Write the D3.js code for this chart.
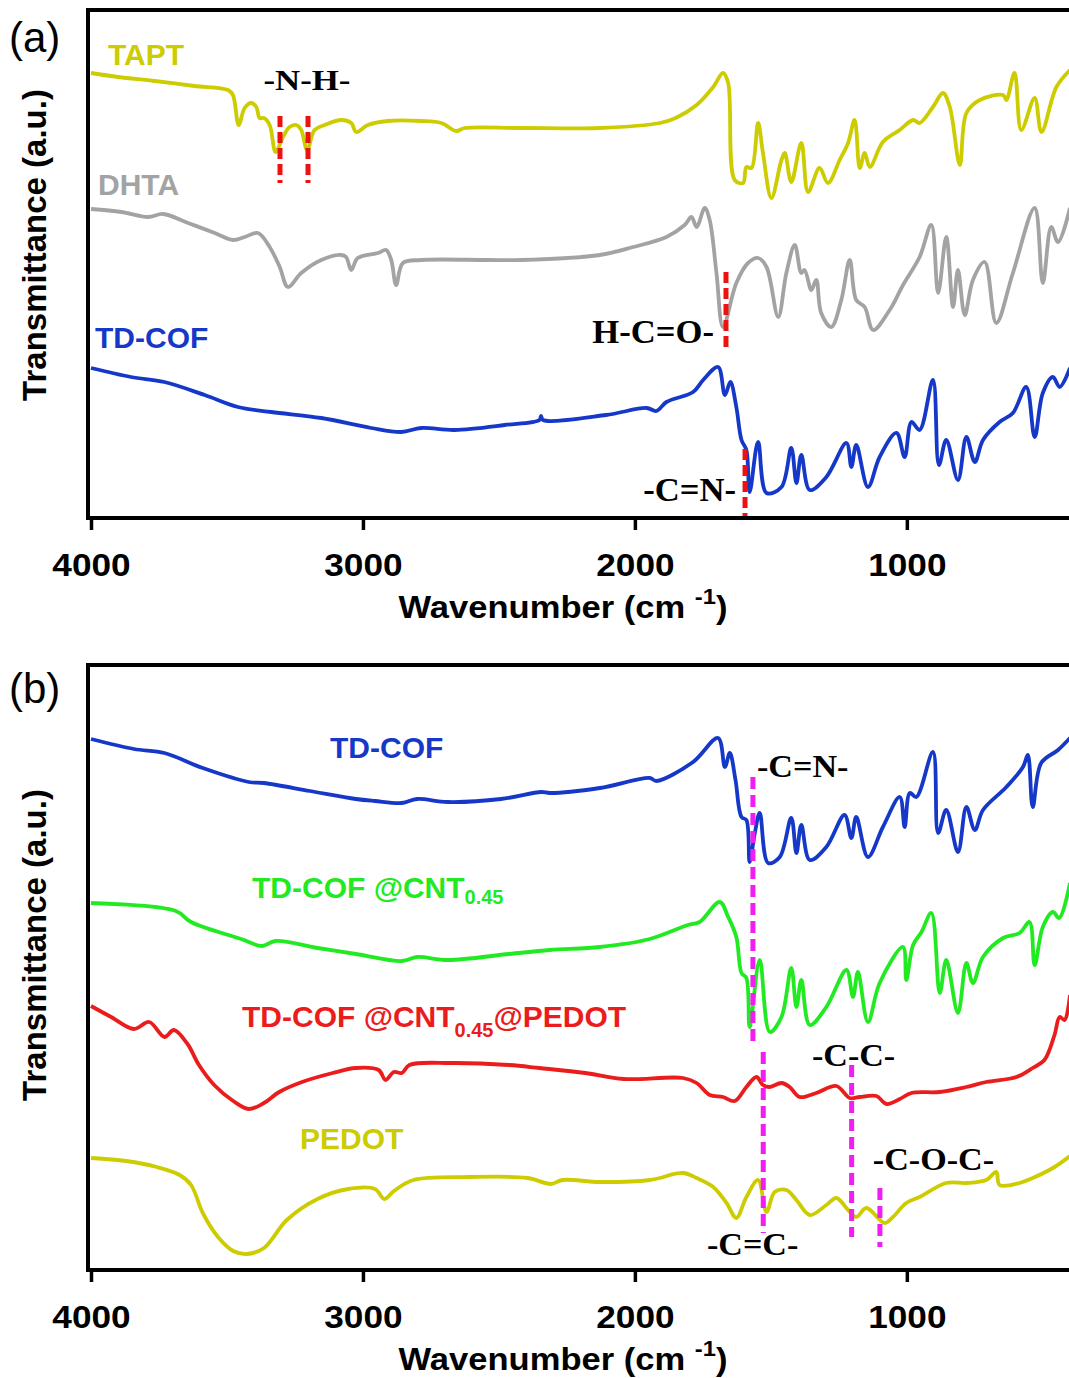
<!DOCTYPE html>
<html>
<head>
<meta charset="utf-8">
<script src="https://cdn.jsdelivr.net/npm/d3@7"></script>
<style>
  body { margin: 0; background: #fff; }
  svg { display: block; }
</style>
</head>
<body>
<div id="chart"></div>
<script>
// FTIR spectra: [wavenumber (cm-1), transmittance (a.u., traces offset)]
const tapt = [[4000,445],[3900,441],[3766,437],[3620,432],[3496,428],[3478,423],[3457,393],[3435,410],[3411,415],[3392,411],[3380,400],[3364,400],[3343,393],[3321,366],[3294,381],[3270,391],[3245,393],[3227,388],[3205,368],[3178,388],[3141,393],[3080,398],[3043,395],[3025,386],[2982,393],[2908,397],[2786,397],[2712,395],[2657,387],[2626,390],[2418,390],[2129,390],[1908,395],[1850,400],[1773,413],[1712,431],[1676,445],[1657,435],[1633,338],[1602,335],[1590,351],[1571,350],[1547,395],[1529,365],[1498,320],[1461,358],[1449,365],[1425,336],[1388,375],[1363,326],[1321,350],[1290,335],[1247,358],[1216,375],[1192,398],[1173,350],[1155,365],[1136,351],[1088,376],[1026,388],[977,398],[953,395],[904,411],[867,425],[842,411],[805,353],[781,405],[732,418],[646,423],[634,418],[604,445],[579,388],[530,420],[505,386],[450,431],[400,448]];
const dhta = [[4000,309],[3889,306],[3790,301],[3735,304],[3643,295],[3545,285],[3478,278],[3435,281],[3386,285],[3343,271],[3306,251],[3276,231],[3227,245],[3153,258],[3080,263],[3062,261],[3043,248],[3019,260],[2945,265],[2915,268],[2896,258],[2878,233],[2853,255],[2786,258],[2541,258],[2418,258],[2129,263],[2006,271],[1884,281],[1817,293],[1792,301],[1773,291],[1743,310],[1725,298],[1700,245],[1676,191],[1627,235],[1584,255],[1547,260],[1516,251],[1473,201],[1443,245],[1412,273],[1388,245],[1376,248],[1351,228],[1333,238],[1315,205],[1278,191],[1241,218],[1210,258],[1186,218],[1155,211],[1124,188],[1063,208],[1014,233],[953,261],[910,293],[885,225],[855,281],[830,211],[812,248],[787,203],[757,238],[714,256],[671,195],[610,245],[530,310],[500,235],[469,291],[444,276],[400,310]];
const tdcofA = [[4000,150],[3853,141],[3730,136],[3582,123],[3460,111],[3337,106],[3153,100],[2970,90],[2859,86],[2786,90],[2663,88],[2479,93],[2351,98],[2345,102],[2338,98],[2106,103],[1957,110],[1921,107],[1884,116],[1786,126],[1749,138],[1694,151],[1669,123],[1649,136],[1627,111],[1608,78],[1590,68],[1578,26],[1547,76],[1516,25],[1461,31],[1425,70],[1406,35],[1388,63],[1357,28],[1296,41],[1222,75],[1204,51],[1186,73],[1143,31],[1100,61],[1038,85],[1008,61],[983,96],[953,88],[904,138],[882,53],[855,78],[812,38],[781,81],[750,56],[720,78],[659,96],[610,105],[561,131],[530,81],[500,125],[463,141],[438,131],[400,150]];

const tdcofB = [[4000,531],[3842,521],[3730,517],[3589,502],[3420,488],[3364,487],[3195,479],[3026,471],[2956,469],[2857,467],[2801,471],[2689,468],[2492,471],[2344,478],[2313,477],[2129,482],[1945,492],[1921,489],[1786,508],[1694,532],[1669,503],[1651,517],[1630,490],[1608,453],[1590,450],[1578,408],[1559,437],[1541,457],[1510,407],[1467,413],[1425,452],[1406,417],[1388,445],[1357,410],[1296,423],[1229,455],[1204,432],[1186,453],[1143,413],[1088,443],[1026,473],[1008,443],[989,477],[965,473],[904,518],[885,437],[855,460],[812,418],[781,463],[750,440],[720,460],[634,483],[573,503],[555,515],[537,463],[506,507],[444,520],[400,532]];
const tdcofCnt = [[4000,367],[3688,359],[3632,348],[3448,331],[3371,324],[3322,329],[3167,322],[3026,316],[2857,309],[2801,313],[2689,310],[2463,316],[2313,320],[2129,323],[1945,331],[1805,345],[1762,348],[1688,368],[1657,353],[1627,333],[1608,297],[1590,292],[1578,243],[1541,310],[1504,238],[1461,253],[1425,302],[1406,263],[1388,290],[1357,245],[1296,263],[1222,300],[1198,273],[1180,298],[1143,248],[1100,287],[1014,323],[1002,290],[977,325],[946,338],[910,357],[879,277],[855,310],[812,257],[781,307],[757,287],[720,313],[646,332],[585,337],[549,348],[530,305],[500,343],[463,358],[440,352],[400,387]];
const tdcofCntPedot = [[4000,264],[3926,253],[3842,241],[3786,248],[3730,233],[3695,240],[3645,226],[3603,205],[3547,185],[3477,169],[3420,161],[3364,167],[3308,178],[3224,188],[3111,197],[3026,202],[2942,200],[2917,190],[2886,198],[2857,197],[2829,205],[2675,207],[2463,205],[2351,202],[2182,197],[2041,191],[1823,192],[1773,187],[1725,175],[1676,173],[1633,169],[1590,183],[1553,193],[1529,185],[1504,183],[1461,187],[1431,183],[1394,173],[1333,177],[1259,184],[1210,172],[1173,173],[1112,174],[1075,166],[1026,171],[983,177],[879,178],[781,183],[708,188],[597,193],[537,202],[494,210],[457,235],[438,253],[420,250],[400,275]];
const pedot = [[4000,112],[3870,109],[3758,103],[3674,95],[3632,85],[3589,57],[3533,33],[3477,19],[3427,16],[3364,22],[3280,50],[3167,71],[3054,81],[2956,81],[2921,71],[2886,79],[2815,90],[2604,93],[2394,92],[2309,86],[2267,90],[2129,88],[1945,90],[1823,97],[1773,92],[1712,83],[1663,67],[1627,52],[1590,73],[1547,90],[1516,58],[1486,78],[1443,80],[1406,70],[1357,55],[1296,65],[1259,72],[1216,60],[1186,53],[1149,62],[1081,47],[1051,53],[1002,67],[953,73],[855,87],[781,87],[708,90],[671,98],[659,85],[585,87],[537,92],[463,102],[400,114]];

const xTicks = [4000, 3000, 2000, 1000];
// band positions (cm-1) marked by dashed lines
const nhBands = [3305, 3202];
const aldehydeBand = [1665];
const imineBandA = [1595];
const imineBandB = [1566];
const ccDoubleBand = [1528];
const ccSingleBand = [1203];
const cocBand = [1099];

const colors = {
    yellow: '#cccc00', gray: '#a3a3a3', blue: '#1638c9',
    green: '#22ea22', red: '#ea1c1c', dash: '#ee1111', magenta: '#f01ef0'
};

const W = 1069, H = 1378;
const svg = d3.select('#chart').append('svg')
    .attr('width', W).attr('height', H);

const sans = '"Liberation Sans", Arial, sans-serif';
const serif = '"Liberation Serif", "Times New Roman", serif';

const panels = [
    {
        tag: '(a)', tagY: 52, top: 10, bottom: 518, yLabelY: 245,
        series: [[tapt, colors.yellow], [dhta, colors.gray], [tdcofA, colors.blue]],
        labels: [
            { text: 'TAPT', x: 108, y: 65, color: colors.yellow },
            { text: 'DHTA', x: 98, y: 195, color: colors.gray },
            { text: 'TD-COF', x: 95, y: 348, color: colors.blue }
        ],
        markers: [
            { bands: nhBands, from: 402, to: 335, color: colors.dash, dash: '11,5' },
            { bands: aldehydeBand, from: 246, to: 166, color: colors.dash, dash: '11,5' },
            { bands: imineBandA, from: 69, to: 0, color: colors.dash, dash: '11,5' }
        ],
        notes: [
            { text: '-N-H-', w: 3206, v: 428, anchor: 'middle', size: 29, sx: 1.2 },
            { text: 'H-C=O-', w: 1709, v: 175, anchor: 'end', size: 33, sx: 1.05 },
            { text: '-C=N-', w: 1628, v: 17, anchor: 'end', size: 33, sx: 1.05 }
        ]
    },
    {
        tag: '(b)', tagY: 703, top: 665, bottom: 1270, yLabelY: 945,
        series: [[tdcofB, colors.blue], [tdcofCnt, colors.green], [tdcofCntPedot, colors.red], [pedot, colors.yellow]],
        labels: [
            { text: 'TD-COF', x: 330, y: 758, color: colors.blue },
            { text: 'TD-COF @CNT', sub: '0.45', x: 252, y: 898, color: colors.green, subShift: 6 },
            { text: 'TD-COF @CNT', sub: '0.45', after: '@PEDOT', x: 242, y: 1027, color: colors.red, subShift: 10 },
            { text: 'PEDOT', x: 300, y: 1149, color: colors.yellow }
        ],
        markers: [
            { bands: imineBandB, from: 493, to: 225, color: colors.magenta, dash: '12,6' },
            { bands: ccDoubleBand, from: 218, to: 37, color: colors.magenta, dash: '12,6' },
            { bands: ccSingleBand, from: 205, to: 33, color: colors.magenta, dash: '12,6' },
            { bands: cocBand, from: 82, to: 23, color: colors.magenta, dash: '12,6' }
        ],
        notes: [
            { text: '-C=N-', w: 1551, v: 493, anchor: 'start', size: 31, sx: 1.1 },
            { text: '-C-C-', w: 1349, v: 204, anchor: 'start', size: 31, sx: 1.1 },
            { text: '-C-O-C-', w: 1125, v: 100, anchor: 'start', size: 31, sx: 1.1 },
            { text: '-C=C-', w: 1735, v: 15, anchor: 'start', size: 31, sx: 1.1 }
        ]
    }
];

function drawPanel(p) {
    const x = d3.scaleLinear().domain([4000, 400]).range([91, 1070]);
    const y = d3.scaleLinear().domain([0, p.bottom - p.top]).range([p.bottom, p.top]);
    const g = svg.append('g');

    const line = d3.line()
        .x(d => x(d[0]))
        .y(d => y(d[1]))
        .curve(d3.curveCatmullRom.alpha(0.5));

    // spectra
    p.series.forEach(([data, color]) => {
        g.append('path')
            .datum(data)
            .attr('d', line)
            .attr('fill', 'none')
            .attr('stroke', color)
            .attr('stroke-width', 3.8)
            .attr('stroke-linejoin', 'round');
    });

    // dashed band markers
    p.markers.forEach(m => {
        m.bands.forEach(b => {
            g.append('line')
                .attr('x1', x(b)).attr('x2', x(b))
                .attr('y1', y(m.from)).attr('y2', y(m.to))
                .attr('stroke', m.color)
                .attr('stroke-width', 5)
                .attr('stroke-dasharray', m.dash);
        });
    });

    // band names (the serif text is a bit wider than normal in the original)
    p.notes.forEach(n => {
        g.append('text')
            .attr('transform', `translate(${x(n.w)},${y(n.v)}) scale(${n.sx},1)`)
            .attr('text-anchor', n.anchor)
            .style('font', `bold ${n.size}px ${serif}`)
            .attr('fill', '#000')
            .text(n.text);
    });

    // series labels
    p.labels.forEach(l => {
        const t = g.append('text')
            .attr('x', l.x).attr('y', l.y)
            .attr('fill', l.color)
            .style('font', `bold 30px ${sans}`)
            .attr('xml:space', 'preserve');
        t.append('tspan').text(l.text);
        if (l.sub) {
            t.append('tspan').attr('dy', l.subShift).style('font-size', '20px').text(l.sub);
        }
        if (l.after) {
            t.append('tspan').attr('dy', -l.subShift).text(l.after);
        }
    });

    // frame (right side falls outside the picture)
    g.append('path')
        .attr('d', `M1080,${p.top}H88V${p.bottom}H1080`)
        .attr('fill', 'none')
        .attr('stroke', '#000')
        .attr('stroke-width', 4);

    const axis = g.append('g')
        .attr('transform', `translate(0,${p.bottom})`)
        .call(d3.axisBottom(x)
            .tickValues(xTicks)
            .tickFormat(d3.format('d'))
            .tickSize(12)
            .tickSizeOuter(0)
            .tickPadding(23));
    axis.select('.domain').remove();
    axis.selectAll('.tick line').attr('stroke', '#000').attr('stroke-width', 3.5);
    axis.selectAll('.tick text')
        .style('font', `bold 32px ${sans}`)
        .attr('fill', '#000')
        .attr('transform', 'scale(1.1,1)');

    // x title
    const title = g.append('text')
        .attr('transform', `translate(563,${p.bottom + 100}) scale(1.08,1)`)
        .attr('text-anchor', 'middle')
        .style('font', `bold 32px ${sans}`)
        .attr('fill', '#000');
    title.append('tspan').text('Wavenumber (cm ');
    title.append('tspan').attr('dy', -14).style('font-size', '22px').text('-1');
    title.append('tspan').attr('dy', 14).text(')');

    // y title
    g.append('text')
        .attr('transform', `translate(46,${p.yLabelY}) rotate(-90)`)
        .attr('text-anchor', 'middle')
        .style('font', `bold 33px ${sans}`)
        .attr('fill', '#000')
        .text('Transmittance (a.u.)');

    // panel tag
    g.append('text')
        .attr('x', 9).attr('y', p.tagY)
        .style('font', `42px ${sans}`)
        .attr('fill', '#000')
        .text(p.tag);
}

panels.forEach(drawPanel);
</script>
</body>
</html>
